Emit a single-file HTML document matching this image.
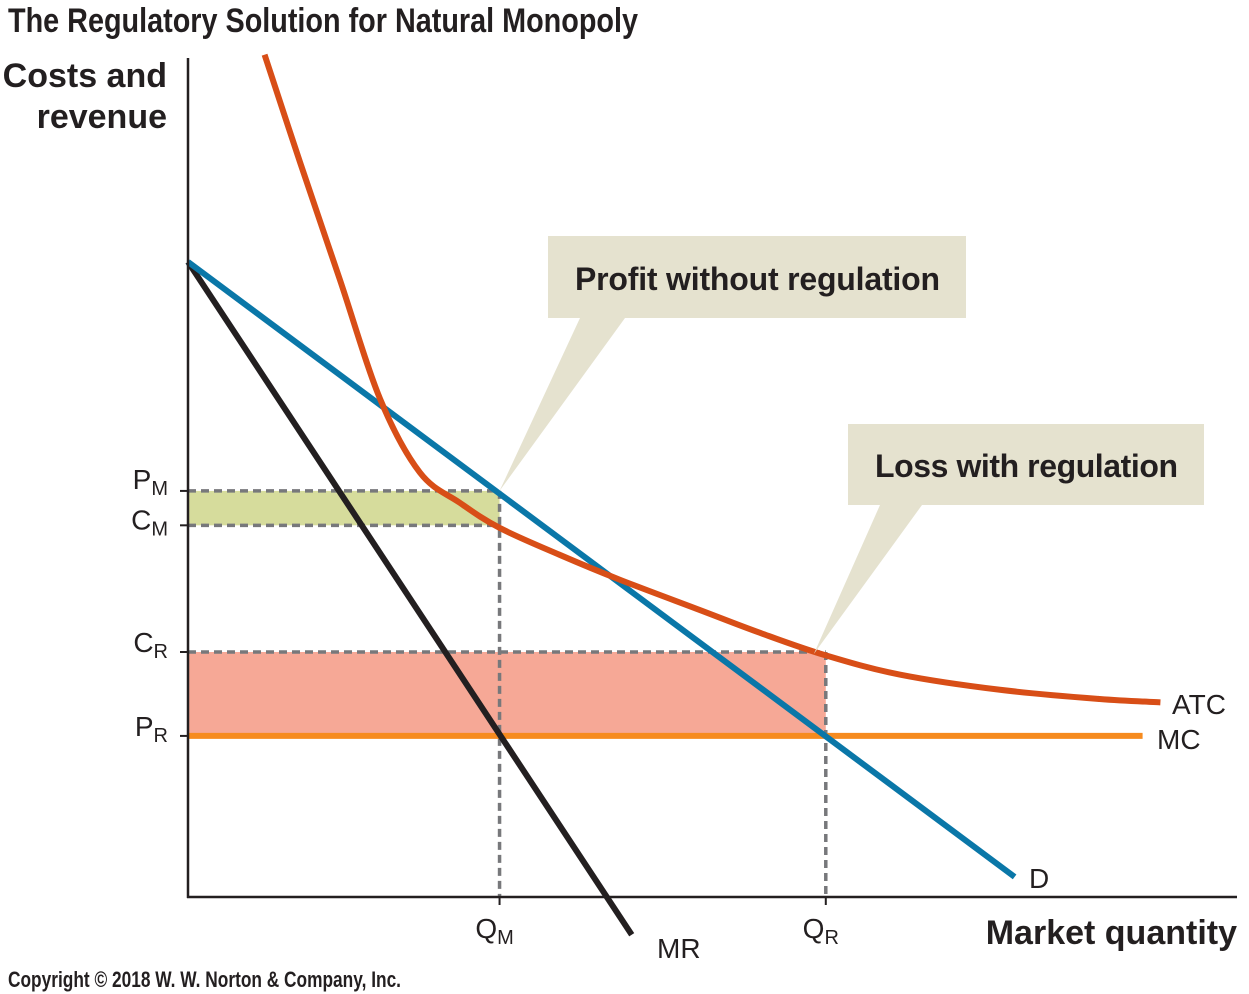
<!DOCTYPE html>
<html><head><meta charset="utf-8"><style>
body{margin:0;background:#fff;}
svg{display:block;font-family:"Liberation Sans Narrow","Liberation Sans",sans-serif;}
</style></head><body>
<svg id="chart" width="1249" height="994" viewBox="0 0 1249 994" xmlns="http://www.w3.org/2000/svg">
<text x="8" y="32" font-size="34" font-weight="bold" fill="#231f20" textLength="630" lengthAdjust="spacingAndGlyphs">The Regulatory Solution for Natural Monopoly</text>
<text x="167" y="87" font-size="34" font-weight="bold" fill="#231f20" text-anchor="end">Costs and</text>
<text x="167" y="128" font-size="34" font-weight="bold" fill="#231f20" text-anchor="end">revenue</text>
<text x="1237" y="944" font-size="34" font-weight="bold" fill="#231f20" text-anchor="end">Market quantity</text>
<text x="8" y="987" font-size="22" font-weight="bold" fill="#231f20" textLength="393" lengthAdjust="spacingAndGlyphs">Copyright © 2018 W. W. Norton &amp; Company, Inc.</text>
<g id="plot"></g>
</svg>
<script>
const demand=[[0,75.7],[78.8,2.4]];
const mr=[[0,75.7],[42.3,-4.5]];
const mc=[[0,19.2],[91.0,19.2]];
const atcX=[7.3,10.7,14.5,18.3,22.1,25.9,29.7,35.4,41.2,48.8,54.5,60.8,67.9,77.4,86.9,92.7];
const atcY=[100.4,87.5,73.5,59.4,50.6,47.0,44.0,40.8,37.8,34.2,31.5,28.8,26.5,24.7,23.6,23.2];
const qM=29.7, qR=60.8, pM=48.4, cM=44.3, cR=29.2, pR=19.2;
const X0=188,XS=10.49,Y0=897,YS=8.39;
const sx=v=>X0+v*XS, sy=v=>Y0-v*YS;
const g=document.getElementById('plot');
const NS='http://www.w3.org/2000/svg';
function el(t,a){const e=document.createElementNS(NS,t);for(const k in a)e.setAttribute(k,a[k]);g.appendChild(e);return e;}
let e;
e=el('rect',{x:sx(0),y:sy(pM),width:sx(qM)-sx(0),height:sy(cM)-sy(pM),fill:'#d6dc9c'});


e=el('rect',{x:sx(0),y:sy(cR),width:sx(qR)-sx(0),height:sy(pR)-sy(cR),fill:'#f6a896'});


const dash={stroke:'#77787b','stroke-width':3.5,'stroke-dasharray':'8,5',fill:'none'};
[[0,pM,qM,pM],[0,cM,qM,cM],[0,cR,qR,cR],[qM,pM,qM,0],[qR,cR,qR,0]].forEach(d=>{
 e=el('line',Object.assign({x1:sx(d[0]),y1:sy(d[1]),x2:sx(d[2]),y2:sy(d[3])},dash));
 
 
});
e=el('polyline',{points:mc.map(p=>sx(p[0])+','+sy(p[1])).join(' '),stroke:'#f68b1f','stroke-width':6,fill:'none'});


e=el('polyline',{points:mr.map(p=>sx(p[0])+','+sy(p[1])).join(' '),stroke:'#231f20','stroke-width':6,fill:'none'});


e=el('polyline',{points:demand.map(p=>sx(p[0])+','+sy(p[1])).join(' '),stroke:'#0a77a8','stroke-width':6,fill:'none'});


const P=atcX.map((x,i)=>[sx(x),sy(atcY[i])]);
let d='M'+P[0].join(',');
for(let i=0;i<P.length-1;i++){const p0=P[i-1]||P[i],p1=P[i],p2=P[i+1],p3=P[i+2]||P[i+1];
 d+=` C${p1[0]+(p2[0]-p0[0])/6},${p1[1]+(p2[1]-p0[1])/6} ${p2[0]-(p3[0]-p1[0])/6},${p2[1]-(p3[1]-p1[1])/6} ${p2[0]},${p2[1]}`;}
e=el('path',{d:d,stroke:'#d84e17','stroke-width':6,fill:'none'});


e=el('line',{x1:188,y1:58,x2:188,y2:898,stroke:'#231f20','stroke-width':2.5});


e=el('line',{x1:187,y1:897,x2:1237,y2:897,stroke:'#231f20','stroke-width':2.5});


function lab(x,y,main,sub,anchor,name){const t=el('text',{x:x,y:y,'font-size':28,fill:'#231f20','text-anchor':anchor});
 t.innerHTML=main+'<tspan font-size="20" dy="6">'+sub+'</tspan>';
 
 }
[[pM,'P','M'],[cM,'C','M'],[cR,'C','R'],[pR,'P','R']].forEach(v=>{
 e=el('line',{x1:180,y1:sy(v[0]),x2:188,y2:sy(v[0]),stroke:'#231f20','stroke-width':2});
 
 
 lab(168,sy(v[0])+(v[0]===pM?-2:v[0]===cM?4:0),v[1],v[2],'end','y-tick-label');
});
[[qM,'Q','M'],[qR,'Q','R']].forEach(v=>{
 e=el('line',{x1:sx(v[0]),y1:897,x2:sx(v[0]),y2:905,stroke:'#231f20','stroke-width':2});
 
 
 lab(sx(v[0])-5,938,v[1],v[2],'middle','x-tick-label');
});
function txt(x,y,s,name,size,w){const t=el('text',{x:x,y:y,'font-size':size||28,fill:'#231f20','font-weight':w||'normal'});t.textContent=s;
 
 return t;}
txt(1172,714,'ATC','atc-label');
txt(1157,749,'MC','mc-label');
txt(1029,888,'D','demand-label');
txt(657,958,'MR','mr-label');
e=el('polygon',{points:`548,236 966,236 966,318 625,318 ${sx(qM)},${sy(pM)} 580,318 548,318`,fill:'#e5e2cf'});


let t=txt(575,290,'Profit without regulation','profit-callout-text',32,'bold');
t.setAttribute('textLength','365');
e=el('polygon',{points:`848,424 1204,424 1204,505 922,505 ${sx(qR)-12},${sy(cR)+2} 880,505 848,505`,fill:'#e5e2cf'});


t=txt(875,477,'Loss with regulation','loss-callout-text',32,'bold');
t.setAttribute('textLength','303');
</script>
</body></html>
